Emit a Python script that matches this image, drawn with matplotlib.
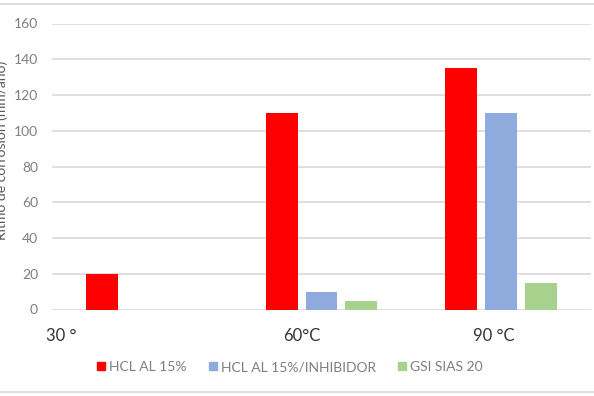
import matplotlib
matplotlib.use("Agg")
import matplotlib.pyplot as plt
import numpy as np
from matplotlib.lines import Line2D

categories = ["30 °", "60°C", "90 °C"]
series_names = ["HCL AL 15%", "HCL AL 15%/INHIBIDOR", "GSI SIAS 20"]
hcl = [20, 110, 135]
hcl_inhib = [0, 10, 110]
gsi = [0, 5, 15]
yticks = [0, 20, 40, 60, 80, 100, 120, 140, 160]
colors = ["#ff0000", "#8faadc", "#a9d18e"]
ylabel = "Ritmo de corrosión (mm/año)"

plt.rcParams['font.family'] = ['Lato', 'DejaVu Sans']

W, H = 594, 396
fig = plt.figure(figsize=(W / 100, H / 100), dpi=100)
# axes in pixel coordinates: left 52, right 591, top 23.5, bottom 309.5
ax = fig.add_axes([52 / W, 1 - 309.5 / H, (591 - 52) / W, (309.5 - 23.5) / H])

x = np.arange(len(categories))
width = 0.178
offset = 0.222
for i, (vals, c) in enumerate(zip([hcl, hcl_inhib, gsi], colors)):
    v = np.array(vals, dtype=float)
    mask = v > 0
    ax.bar(x[mask] + (i - 1) * offset, v[mask], width=width, color=c, zorder=3)

ax.set_xlim(-0.5, 2.5)
ax.set_ylim(0, 160)
ax.set_yticks(yticks)
ax.set_yticklabels([str(t) for t in yticks], color="#7f7f7f", fontsize=10)
ax.tick_params(axis='y', length=0, pad=10)
ax.grid(axis='y', color="#d9d9d9", linewidth=1.2, zorder=0)
for s in ax.spines.values():
    s.set_visible(False)

# category labels (shifted left as in the original)
label_pos = x + np.array([-0.45, -0.109, -0.04])
ax.set_xticks(label_pos)
ax.set_xticklabels(categories, fontsize=12, color="#333333")
ax.tick_params(axis='x', length=0, pad=13)

fig.text(-0.008, 1 - 150 / H, ylabel, rotation=90, ha='left', va='center',
         fontsize=10, color="#595959")

handles = [Line2D([0], [0], marker='s', linestyle='none', markersize=6,
                  markerfacecolor=c, markeredgecolor=c) for c in colors]
fig.legend(handles, series_names, loc='center', bbox_to_anchor=(289.5 / W, 1 - 367 / H),
           ncol=3, frameon=False, fontsize=10, labelcolor="#7f7f7f",
           handletextpad=0.25, columnspacing=1.5, handlelength=0.7)

# outer chart border lines
fig.add_artist(Line2D([0, 1], [1 - 3.5 / H, 1 - 3.5 / H], transform=fig.transFigure,
                      color="#d9d9d9", linewidth=1.2))
fig.add_artist(Line2D([0, 1], [1 - 392 / H, 1 - 392 / H], transform=fig.transFigure,
                      color="#d9d9d9", linewidth=1.2))

fig.savefig("out.png", dpi=100)
